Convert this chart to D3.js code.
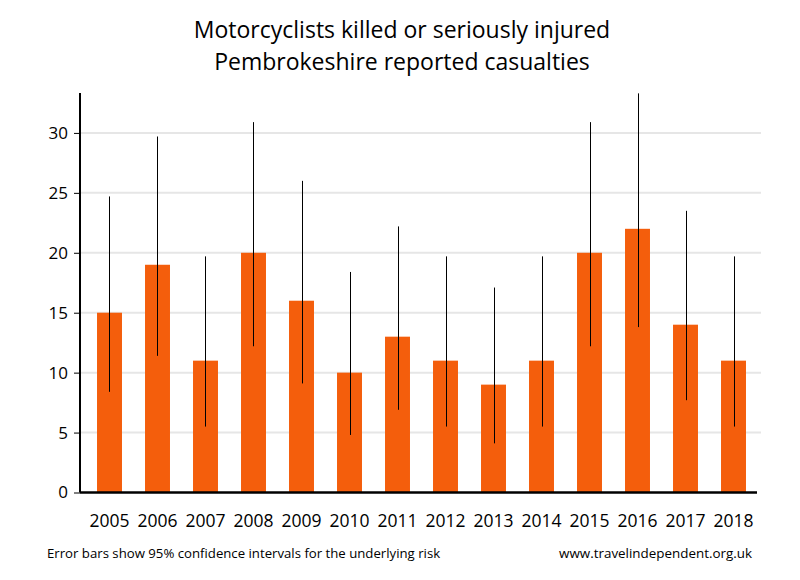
<!DOCTYPE html>
<html><head><meta charset="utf-8">
<script src="https://cdn.jsdelivr.net/npm/d3@7"></script>
<style>body{margin:0;background:#fff}</style>
</head><body>
<svg id="c" width="800" height="580"></svg>
<script>
const years = ["2005","2006","2007","2008","2009","2010","2011","2012","2013","2014","2015","2016","2017","2018"];
const casualties = [15,19,11,20,16,10,13,11,9,11,20,22,14,11];
const ciLower = [8.4,11.4,5.5,12.2,9.1,4.8,6.9,5.5,4.1,5.5,12.2,13.8,7.7,5.5];
const ciUpper = [24.7,29.7,19.7,30.9,26.0,18.4,22.2,19.7,17.1,19.7,30.9,33.3,23.5,19.7];
const yTicks = [0,5,10,15,20,25,30];
const titleLines = ["Motorcyclists killed or seriously injured","Pembrokeshire reported casualties"];
const footLeft = "Error bars show 95% confidence intervals for the underlying risk";
const footRight = "www.travelindependent.org.uk";

const font = "'Open Sans', sans-serif";
const svg = d3.select("#c");
const x = d3.scaleBand().domain(years).range([85.5, 757.5]).paddingInner(0.48).paddingOuter(0.24);
const y = d3.scaleLinear().domain([0, 33.33]).range([492.5, 93]);

// gridlines
svg.append("g").selectAll("line").data(yTicks.filter(d=>d>0)).join("line")
  .attr("x1", 80).attr("x2", 761).attr("y1", d=>y(d)).attr("y2", d=>y(d))
  .attr("stroke", "#e6e6e6").attr("stroke-width", 2);

// bars
svg.append("g").selectAll("rect").data(years).join("rect")
  .attr("x", d=>x(d)).attr("width", x.bandwidth())
  .attr("y", (d,i)=>y(casualties[i])).attr("height", (d,i)=>y(0)-y(casualties[i]))
  .attr("fill", "#f45e0c");

// error bars
svg.append("g").selectAll("line").data(years).join("line")
  .attr("x1", d=>Math.round(x(d)+x.bandwidth()/2)+0.5).attr("x2", d=>Math.round(x(d)+x.bandwidth()/2)+0.5)
  .attr("y1", (d,i)=>y(ciLower[i])).attr("y2", (d,i)=>y(ciUpper[i]))
  .attr("stroke", "#000").attr("stroke-width", 1);

// y axis
const ya = svg.append("g").attr("transform","translate(80,0)")
  .call(d3.axisLeft(y).tickValues(yTicks).tickSize(6).tickPadding(6));
ya.select(".domain").attr("d", `M0,${y(0)}V93`).attr("stroke-width", 2);
ya.selectAll(".tick line").attr("stroke-width", 1);
ya.selectAll("text").attr("font-family", font).attr("font-size", 17).attr("fill","#000");

// x axis
const xa = svg.append("g").attr("transform",`translate(0,${y(0)})`)
  .call(d3.axisBottom(x).tickSize(0).tickPadding(22));
xa.select(".domain").attr("d", "M80,0H757").attr("stroke-width", 2.5);
xa.selectAll("text").attr("font-family", font).attr("font-size", 17.5).attr("fill","#000");

// title
svg.append("g").selectAll("text").data(titleLines).join("text")
  .attr("x", 402).attr("y", (d,i)=>38+i*32).attr("text-anchor","middle")
  .attr("font-family", font).attr("font-size", 23).attr("fill","#000").text(d=>d);

// footers
svg.append("text").attr("x", 47).attr("y", 558).attr("font-family", font).attr("font-size", 13.2).text(footLeft);
svg.append("text").attr("x", 752).attr("y", 558).attr("text-anchor","end").attr("font-family", font).attr("font-size", 13.4).text(footRight);
</script>
</body></html>
